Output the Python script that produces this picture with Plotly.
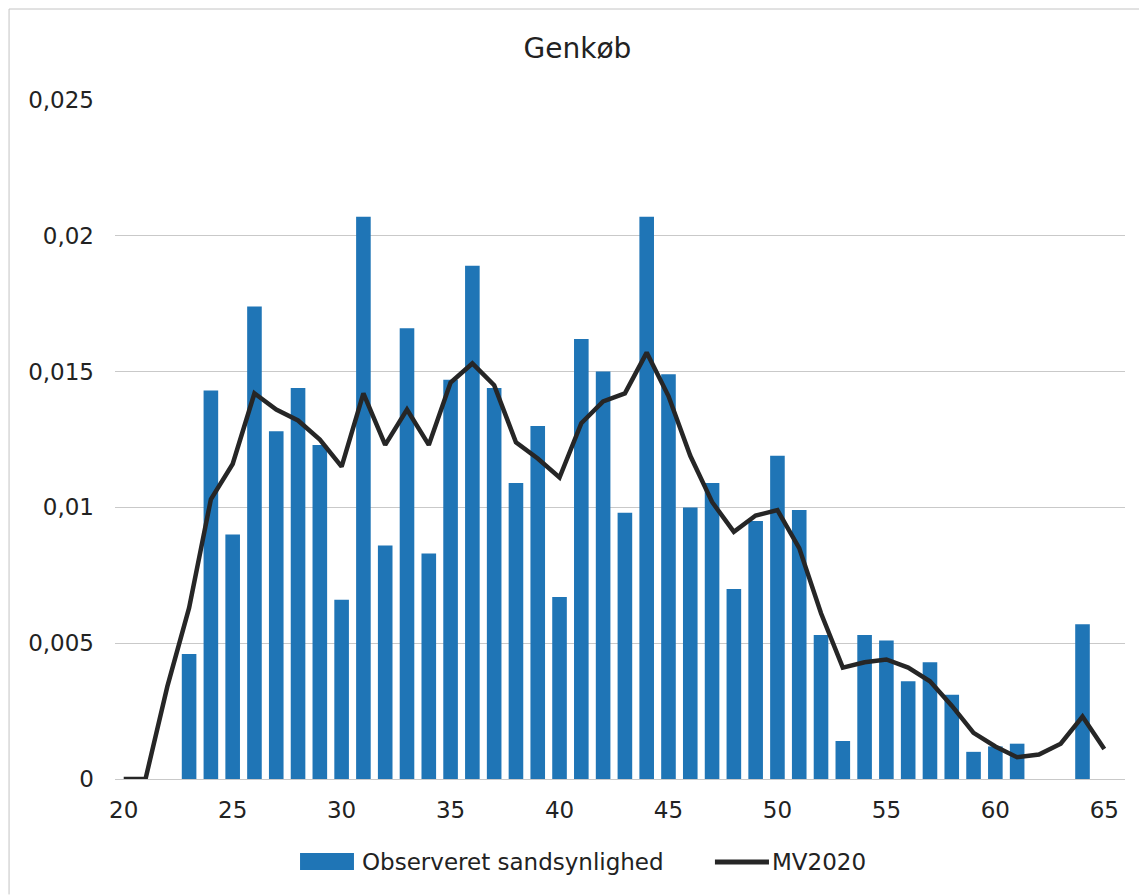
import plotly.graph_objects as go

ages_bar = [23, 24, 25, 26, 27, 28, 29, 30, 31, 32, 33, 34, 35, 36, 37, 38, 39, 40, 41, 42, 43,
            44, 45, 46, 47, 48, 49, 50, 51, 52, 53, 54, 55, 56, 57, 58, 59, 60, 61, 64]
observed = [0.0046, 0.0143, 0.0090, 0.0174, 0.0128, 0.0144, 0.0123, 0.0066, 0.0207, 0.0086,
            0.0166, 0.0083, 0.0147, 0.0189, 0.0144, 0.0109, 0.0130, 0.0067, 0.0162, 0.0150,
            0.0098, 0.0207, 0.0149, 0.0100, 0.0109, 0.0070, 0.0095, 0.0119, 0.0099, 0.0053,
            0.0014, 0.0053, 0.0051, 0.0036, 0.0043, 0.0031, 0.0010, 0.0012, 0.0013, 0.0057]

ages_line = list(range(20, 66))
mv2020 = [0.0, 0.0, 0.0034, 0.0063, 0.0103, 0.0116, 0.0142, 0.0136, 0.0132, 0.0125,
          0.0115, 0.0142, 0.0123, 0.0136, 0.0123, 0.0146, 0.0153, 0.0145, 0.0124, 0.0118,
          0.0111, 0.0131, 0.0139, 0.0142, 0.0157, 0.0141, 0.0119, 0.0102, 0.0091, 0.0097,
          0.0099, 0.0085, 0.0061, 0.0041, 0.0043, 0.0044, 0.0041, 0.0036, 0.0027, 0.0017,
          0.0012, 0.0008, 0.0009, 0.0013, 0.0023, 0.0011]

y_ticks = [0, 0.005, 0.01, 0.015, 0.02, 0.025]
y_labels = ["0", "0,005", "0,01", "0,015", "0,02", "0,025"]
x_ticks = [20, 25, 30, 35, 40, 45, 50, 55, 60, 65]

series_names = ["Observeret sandsynlighed", "MV2020"]
BAR_COLOR = "#1f75b6"
LINE_COLOR = "#262626"
TEXT_COLOR = "#222222"
FONT = "DejaVu Sans"

fig = go.Figure()
fig.add_trace(go.Bar(
    x=ages_bar, y=observed, name=series_names[0], showlegend=False,
    marker=dict(color=BAR_COLOR, line=dict(width=0)),
))
fig.add_trace(go.Scatter(
    x=ages_line, y=mv2020, name=series_names[1], mode="lines", showlegend=False,
    line=dict(color=LINE_COLOR, width=4.5),
))

# legend drawn below the plot (Excel-style wide swatches)
legend_shapes = [
    dict(type="rect", xref="paper", yref="paper", x0=0.1832, x1=0.2366, y0=-0.134, y1=-0.109,
         fillcolor=BAR_COLOR, line=dict(width=0)),
    dict(type="line", xref="paper", yref="paper", x0=0.594, x1=0.6475, y0=-0.1222, y1=-0.1222,
         line=dict(color=LINE_COLOR, width=5)),
    # chart-area border (left / top)
    dict(type="line", xref="paper", yref="paper", x0=-0.1049, x1=-0.1049, y0=-0.17, y1=1.134,
         line=dict(color="#c4c4c4", width=1)),
    dict(type="line", xref="paper", yref="paper", x0=-0.1049, x1=1.03, y0=1.134, y1=1.134,
         line=dict(color="#c4c4c4", width=1)),
]
legend_annotations = [
    dict(xref="paper", yref="paper", x=0.2426, y=-0.1222, xanchor="left", yanchor="middle",
         text=series_names[0], showarrow=False, font=dict(family=FONT, size=23, color=TEXT_COLOR)),
    dict(xref="paper", yref="paper", x=0.6485, y=-0.1222, xanchor="left", yanchor="middle",
         text=series_names[1], showarrow=False, font=dict(family=FONT, size=23, color=TEXT_COLOR)),
]

fig.update_layout(
    width=1139, height=888,
    paper_bgcolor="white", plot_bgcolor="white",
    margin=dict(l=107, r=22, t=92, b=117),
    bargap=0.33,
    showlegend=False,
    title=dict(text="Genkøb", x=0.5, xanchor="center", y=0.955, yanchor="middle",
               font=dict(family=FONT, size=28, color=TEXT_COLOR)),
    font=dict(family=FONT, color=TEXT_COLOR),
    xaxis=dict(range=[19.6, 65.95], tickmode="array", tickvals=x_ticks,
               ticktext=[str(v) for v in x_ticks], showgrid=False, zeroline=False,
               showline=False, ticks="", ticklabelstandoff=15,
               tickfont=dict(size=23, color=TEXT_COLOR)),
    yaxis=dict(range=[0, 0.025], tickmode="array", tickvals=y_ticks, ticktext=y_labels,
               showgrid=True, gridcolor="#c9c9c9", gridwidth=1, zeroline=True,
               zerolinecolor="#c9c9c9", zerolinewidth=1, showline=False, ticks="",
               ticklabelstandoff=20, tickfont=dict(size=23, color=TEXT_COLOR)),
    shapes=legend_shapes,
    annotations=legend_annotations,
)

fig.write_html("out.html")
